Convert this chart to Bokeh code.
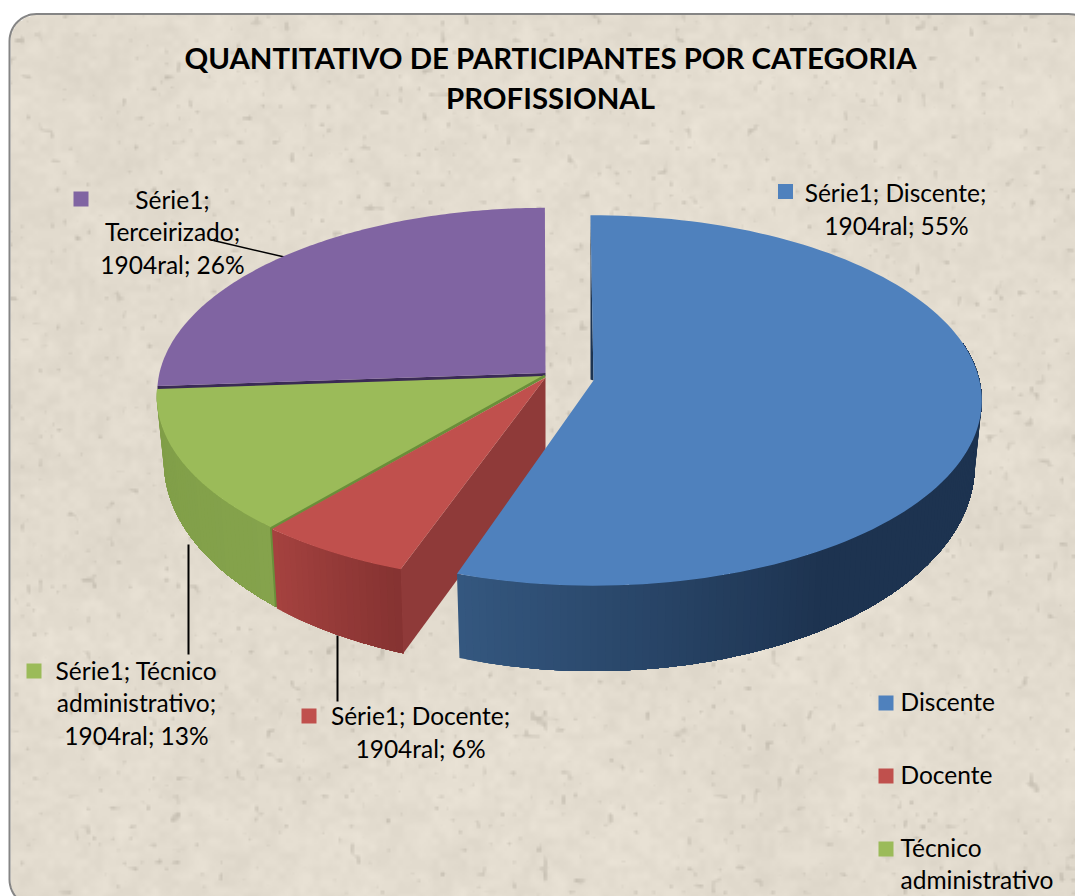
import numpy as np
from bokeh.plotting import figure
from bokeh.models import Range1d
from bokeh.embed import file_html
from bokeh.resources import INLINE
from bokeh.core.properties import value

# ---- data ----
categories = ["Discente", "Docente", "Técnico administrativo", "Terceirizado"]
shares = [55.28, 5.8, 12.6, 26.1]          # estimated slice shares, percent
top_colors = ["#4f81bd", "#c0504d", "#9bbb59", "#8064a2"]
title_lines = ["QUANTITATIVO DE PARTICIPANTES POR CATEGORIA", "PROFISSIONAL"]
label_lines = [
    ["Série1; Discente;", "1904ral; 55%"],
    ["Série1; Docente;", "1904ral; 6%"],
    ["Série1; Técnico", "administrativo;", "1904ral; 13%"],
    ["Série1;", "Terceirizado;", "1904ral; 26%"],
]
legend_lines = [["Discente"], ["Docente"], ["Técnico", "administrativo"]]

FONT = "Lato"
W, H = 1075, 896
p = figure(width=W, height=H, x_range=Range1d(0, W), y_range=Range1d(H, 0),
           output_backend="svg", toolbar_location=None, min_border=0,
           outline_line_color=None, border_fill_color="white", background_fill_color="white")
p.axis.visible = False
p.grid.visible = False

# ---- card: paper texture from a trigonometric hash, rounded with a mask ----
def card(x0, y0, x1, y1, r):
    a = np.linspace(0, np.pi / 2, 16)
    xs = np.r_[x0 + r - r * np.cos(a), x1 - r + r * np.sin(a), x1 - r + r * np.cos(a), x0 + r - r * np.sin(a)]
    ys = np.r_[y0 + r - r * np.sin(a), y0 + r - r * np.cos(a), y1 - r + r * np.sin(a), y1 - r + r * np.cos(a)]
    return xs, ys

def hash2(i, j):
    v = np.sin(i * 127.1 + j * 311.7) * 43758.5453
    return v - np.floor(v)

def smooth_noise(yy, xx, cell):
    fx, fy = xx / cell, yy / cell
    i, j = np.floor(fx), np.floor(fy)
    a, b = fx - i, fy - j
    a, b = a * a * (3 - 2 * a), b * b * (3 - 2 * b)
    return ((1 - a) * (1 - b) * hash2(i, j) + a * (1 - b) * hash2(i + 1, j)
            + (1 - a) * b * hash2(i, j + 1) + a * b * hash2(i + 1, j + 1))

CARD = (9, 13.5, 1095, 906, 27)
yy, xx = np.mgrid[0:H // 2, 0:W // 2] * 2.0
shade = (smooth_noise(yy, xx, 7) - .5) * 7 + (smooth_noise(yy + 7, xx + 3, 17) - .5) * 6 + (smooth_noise(yy + 11, xx + 5, 110) - .5) * 5
speck = smooth_noise(yy + 3, xx + 9, 6)
shade = shade - np.clip(speck - .86, 0, None) * 220
dx = np.maximum(np.maximum(CARD[0] + 27 - xx, xx - (CARD[2] - 27)), 0)
dy = np.maximum(np.maximum(CARD[1] + 27 - yy, yy - (CARD[3] - 27)), 0)
inside = np.hypot(dx, dy) <= 27.5
img = np.zeros((H // 2, W // 2), dtype=np.uint32)
view = img.view(np.uint8).reshape((H // 2, W // 2, 4))
for k, base in enumerate((227, 220, 207)):
    view[..., k] = np.clip(base + shade, 0, 255).astype(np.uint8)
view[..., 3] = np.where(inside, 255, 0)
p.image_rgba(image=[img[::-1]], x=0, y=0, dw=W, dh=H, origin="top_left")
cx, cy = card(*CARD)
p.patch(cx, cy, fill_color=None, line_color="#858585", line_width=2)

# ---- projection of the tilted disc ----
R_TOP, S_TOP = 386, 183
R_BOT, S_BOT, DROP = 379, 203, 63
DEPTH = 82
K = 0.108

def rim(apex, t, bottom=False):
    t = np.radians(t)
    u, v = np.sin(t), np.cos(t) * -1
    s = 1 / (1 - K * v)
    if bottom:
        return apex[0] + R_BOT * u * s, apex[1] + DROP + S_BOT * v * s
    return apex[0] + R_TOP * u * s, apex[1] + S_TOP * v * s

def mix(c0, c1, f):
    a = [int(c0[i:i + 2], 16) for i in (1, 3, 5)]
    b = [int(c1[i:i + 2], 16) for i in (1, 3, 5)]
    return "#%02x%02x%02x" % tuple(int(round(x + (y - x) * f)) for x, y in zip(a, b))

def wall(apex, t0, t1, c0, c1, tmid=None):
    n = max(8, int(abs(t1 - t0))) + 1
    ts = np.linspace(t0, t1, n)
    for i in range(n - 1):
        a = ts[i]
        sub = np.linspace(a, t1, max(2, n - i))
        xt, yt = rim(apex, sub)
        xb, yb = rim(apex, sub, True)
        f = i / (n - 1)
        if tmid is not None:
            f = min(1, (a - t0) / (tmid - t0))
        p.patch(np.r_[xt, xb[::-1]], np.r_[yt, yb[::-1]], fill_color=mix(c0, c1, f), line_color=None)

def top(apex, t0, t1, col):
    ts = np.linspace(t0, t1, 120)
    xs, ys = rim(apex, ts)
    p.patch(np.r_[apex[0], xs], np.r_[apex[1], ys], fill_color=col, line_color=None)

apex_blue, apex_red, apex_green, apex_purple = (593, 380), (545, 377), (544.5, 375.5), (545, 372.5)

T0 = -0.5
blue_end = T0 + shares[0] * 3.6
red_start = 199.7
red_end = red_start + shares[1] * 3.6
green_end = red_end + shares[2] * 3.6
purple_end = green_end + shares[3] * 3.6

# ---- leader lines ----
p.line([213, 286], [240, 257], line_color="black", line_width=1.5)
p.line([188, 188], [544, 654], line_color="black", line_width=2)
p.line([337, 337], [635, 701], line_color="black", line_width=2)

# ---- slices, back to front ----
xg, yg = rim(apex_purple, green_end)
p.patch([xg, apex_purple[0], apex_purple[0], xg], [yg, apex_purple[1], apex_purple[1] + 3.5, yg + 4],
        fill_color="#3a2a55", line_color=None)
top(apex_purple, green_end, purple_end, top_colors[3])

wall(apex_green, green_end, red_end, "#7f9d47", "#85a34c")
top(apex_green, red_end, green_end, top_colors[2])
xc, yc = rim(apex_green, red_end)
xd, yd = rim(apex_green, red_end, True)
p.line([apex_green[0], xc, xd], [apex_green[1], yc + 1, yd], line_color="#6a8f3a", line_width=3)

wall(apex_red, red_end, red_start, "#a5423f", "#843231")
xa, ya = rim(apex_red, red_start)
xb, yb = rim(apex_red, red_start, True)
p.patch([apex_red[0], xa, xb, apex_red[0]], [apex_red[1], ya, yb, apex_red[1] + DEPTH],
        fill_color="#8f3a39", line_color=None)
top(apex_red, red_start, red_end, top_colors[1])

xa, ya = rim(apex_blue, T0)
p.patch([xa, apex_blue[0] - 3, apex_blue[0]], [ya, apex_blue[1] - 1, apex_blue[1]], fill_color="#1c3350", line_color=None)
wall(apex_blue, blue_end, 78, "#34577f", "#1d3350", tmid=148)
top(apex_blue, T0, blue_end, top_colors[0])

# ---- texts ----
def txt(x, y, s, size, align="center", bold=False):
    p.text([x], [y], text=[s], text_font=value(FONT), text_font_size=f"{size}px",
           text_align=align, text_baseline="alphabetic", text_color="black",
           text_font_style="bold" if bold else "normal")

txt(550, 57, title_lines[0], 29.4, bold=True)
txt(550, 97, title_lines[1], 29.4, bold=True)

label_pos = [[(895, 192), (896, 225)],
             [(420, 715), (420, 748)],
             [(136, 670), (136, 702), (136, 735)],
             [(172, 199), (172, 231), (172, 264)]]
label_marks = [(785, 191), (308.5, 715.5), (33.5, 670.5), (80.5, 198.5)]
for lines, pos, mark, col in zip(label_lines, label_pos, label_marks, top_colors):
    p.rect([mark[0]], [mark[1]], width=15, height=15, fill_color=col, line_color=None)
    for s, (x, y) in zip(lines, pos):
        txt(x, y, s, 24.5)

legend_marks = [702.5, 775.5, 848.5]
legend_base = [[701], [774], [847, 879]]
for lines, ym, ybs, col in zip(legend_lines, legend_marks, legend_base, top_colors):
    p.rect([885.5], [ym], width=15, height=15, fill_color=col, line_color=None)
    for s, yb in zip(lines, ybs):
        txt(900, yb, s, 24.5, align="left")

open("out.html", "w").write(file_html(p, INLINE))
